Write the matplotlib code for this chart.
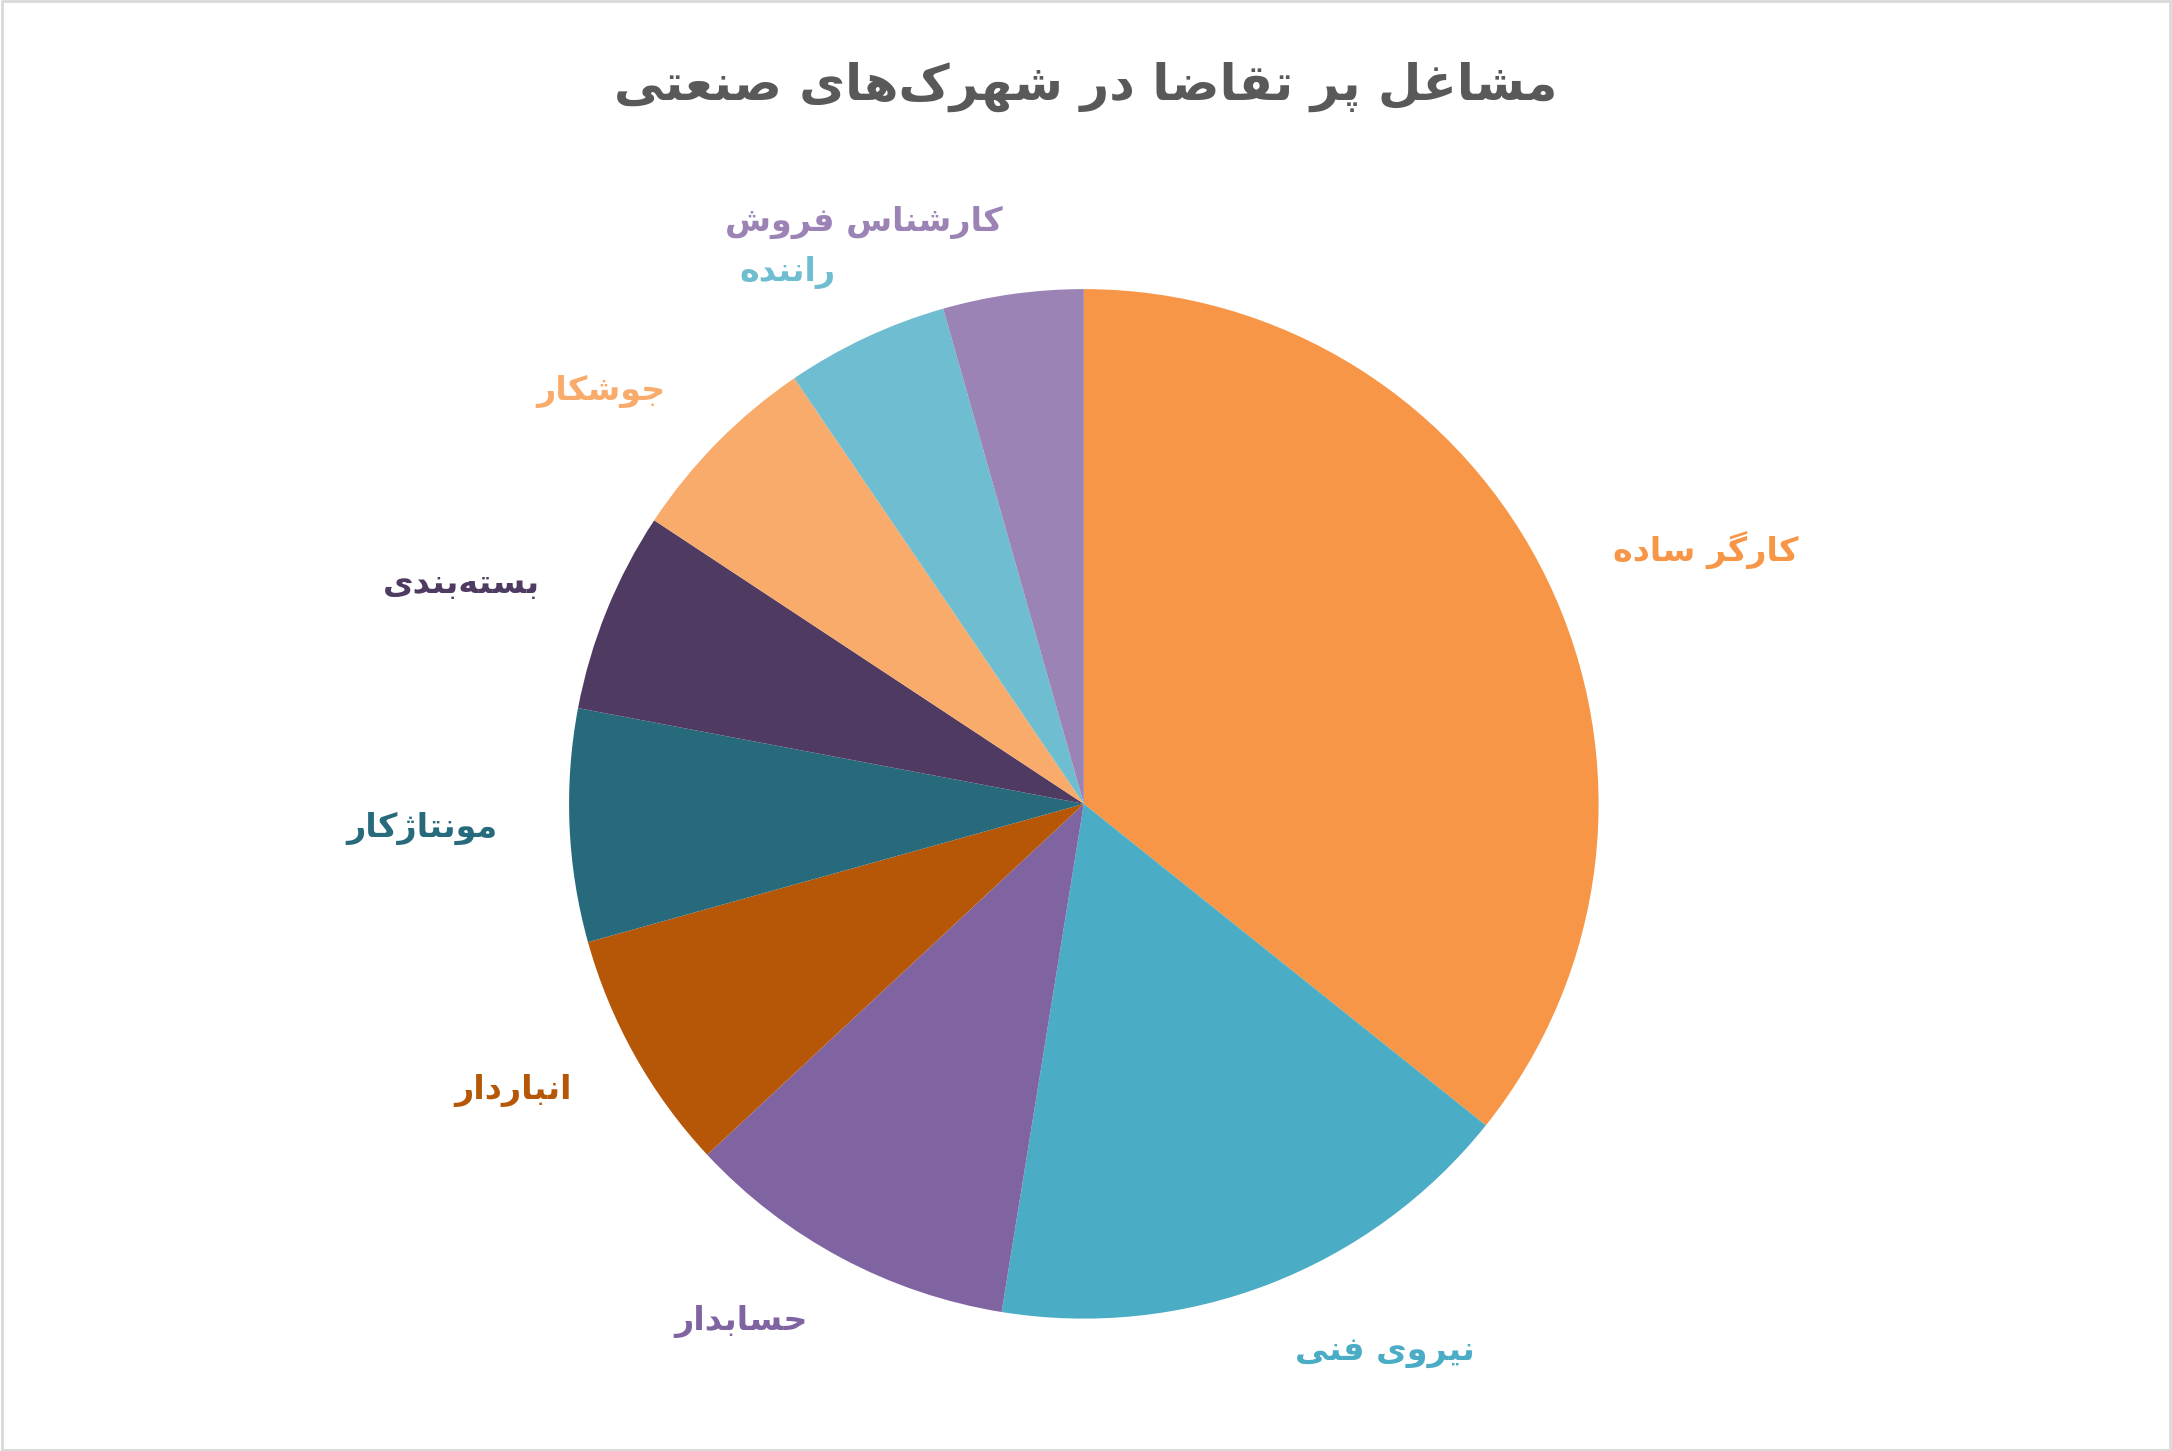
import matplotlib
matplotlib.use("Agg")
import matplotlib.pyplot as plt
from matplotlib.patches import Rectangle

# ---- data ----
jobs = ["کارگر ساده", "نیروی فنی", "حسابدار", "انباردار", "مونتاژکار",
        "بسته‌بندی", "جوشکار", "راننده", "کارشناس فروش"]
shares = [35.7, 16.8, 10.5, 7.6, 7.3, 6.3, 6.2, 5.1, 4.4]
colors = ["#F79646", "#4BACC6", "#8064A2", "#B65708", "#276A7C",
          "#4F3B62", "#F9AB6B", "#6FBDD1", "#9B83B5"]
title = "مشاغل پر تقاضا در شهرک‌های صنعتی"

# ---- minimal Persian shaping (matplotlib does no Arabic shaping) ----
FORMS = {  # isolated, final, initial, medial
    "ا": (0xFE8D, 0xFE8E, None, None), "د": (0xFEA9, 0xFEAA, None, None),
    "ر": (0xFEAD, 0xFEAE, None, None), "ژ": (0xFB8A, 0xFB8B, None, None),
    "و": (0xFEED, 0xFEEE, None, None),
    "ب": (0xFE8F, 0xFE90, 0xFE91, 0xFE92), "پ": (0xFB56, 0xFB57, 0xFB58, 0xFB59),
    "ت": (0xFE95, 0xFE96, 0xFE97, 0xFE98), "ج": (0xFE9D, 0xFE9E, 0xFE9F, 0xFEA0),
    "ح": (0xFEA1, 0xFEA2, 0xFEA3, 0xFEA4), "س": (0xFEB1, 0xFEB2, 0xFEB3, 0xFEB4),
    "ش": (0xFEB5, 0xFEB6, 0xFEB7, 0xFEB8), "ص": (0xFEB9, 0xFEBA, 0xFEBB, 0xFEBC),
    "ض": (0xFEBD, 0xFEBE, 0xFEBF, 0xFEC0), "ع": (0xFEC9, 0xFECA, 0xFECB, 0xFECC),
    "غ": (0xFECD, 0xFECE, 0xFECF, 0xFED0), "ف": (0xFED1, 0xFED2, 0xFED3, 0xFED4),
    "ق": (0xFED5, 0xFED6, 0xFED7, 0xFED8), "ک": (0xFB8E, 0xFB8F, 0xFB90, 0xFB91),
    "گ": (0xFB92, 0xFB93, 0xFB94, 0xFB95), "ل": (0xFEDD, 0xFEDE, 0xFEDF, 0xFEE0),
    "م": (0xFEE1, 0xFEE2, 0xFEE3, 0xFEE4), "ن": (0xFEE5, 0xFEE6, 0xFEE7, 0xFEE8),
    "ه": (0xFEE9, 0xFEEA, 0xFEEB, 0xFEEC), "ی": (0xFBFC, 0xFBFD, 0xFBFE, 0xFBFF),
}

def shape(s):
    out = []
    for i, ch in enumerate(s):
        if ch not in FORMS:
            if ch != "\u200c":
                out.append(ch)
            continue
        prev = s[i - 1] if i > 0 else ""
        nxt = s[i + 1] if i + 1 < len(s) else ""
        jp = prev in FORMS and FORMS[prev][2] is not None
        jn = FORMS[ch][2] is not None and nxt in FORMS
        f = FORMS[ch]
        code = f[3] if (jp and jn) else f[1] if jp else f[2] if jn else f[0]
        out.append(chr(code))
    return "".join(reversed(out))

plt.rcParams["font.family"] = ["DejaVu Sans"]
fig = plt.figure(figsize=(21.72, 14.51), dpi=100)
fig.patches.append(Rectangle((0.001, 0.001), 0.998, 0.998, transform=fig.transFigure,
                             fill=False, edgecolor="#D9D9D9", lw=2))
ax = fig.add_axes([0.262, 0.091, 0.474, 0.71])
wedges, texts = ax.pie(shares, labels=[shape(j) for j in jobs], colors=colors,
                       startangle=90, counterclock=False, labeldistance=1.14,
                       wedgeprops=dict(linewidth=0),
                       textprops=dict(fontsize=24, fontweight="bold"))
for t, c in zip(texts, colors):
    t.set_color(c)
ax.set_xlim(-1, 1); ax.set_ylim(-1, 1); ax.set_aspect("equal")
fig.text(0.5, 0.94, shape(title), ha="center", va="center", fontsize=36,
         fontweight="bold", color="#595959")
fig.savefig("out.png")
